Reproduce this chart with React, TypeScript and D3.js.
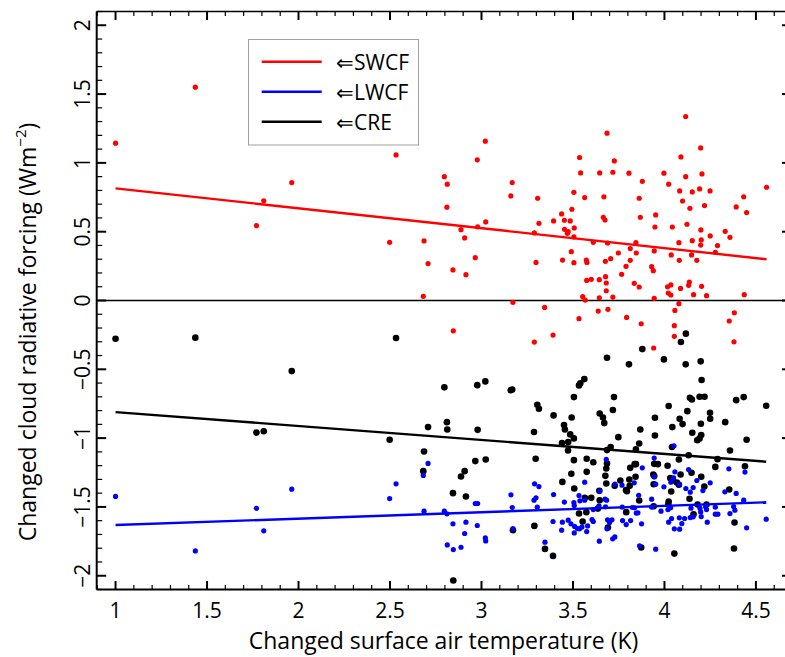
import React from 'react';
import * as d3 from 'd3';

// [temperature change (K), forcing change (W m-2)]
const swcfPoints: [number, number][] = [
  [1.0, 1.143], [1.436, 1.55], [1.77, 0.544], [1.81, 0.724], [1.963, 0.857],
  [2.533, 1.058], [2.498, 0.423], [2.682, 0.03], [2.686, 0.433], [2.708, 0.268], [2.797, 0.9],
  [2.813, 0.845], [2.811, 0.678], [2.844, 0.222], [2.846, -0.22], [2.888, 0.515], [2.908, 0.455],
  [2.915, 0.188], [2.966, 0.311], [2.977, 1.022], [3.021, 1.158], [2.979, 0.535], [3.023, 0.571],
  [3.168, 0.857], [3.16, 0.76], [3.172, -0.013],
  [4.116, 1.337], [3.686, 1.216], [4.198, 1.109], [4.09, 1.043], [3.536, 1.039], [3.726, 1.014],
  [3.542, 0.927], [3.646, 0.927], [3.718, 0.932], [3.806, 0.925], [3.997, 0.925], [4.205, 0.92],
  [4.116, 0.9], [3.879, 0.866], [4.023, 0.845], [4.192, 0.811], [4.249, 0.796], [4.083, 0.796],
  [4.152, 0.789], [3.505, 0.786], [3.307, 0.743], [3.564, 0.748], [3.669, 0.753], [3.862, 0.743],
  [4.099, 0.723], [4.219, 0.69], [4.392, 0.68], [4.433, 0.753], [4.449, 0.639], [4.558, 0.823],
  [4.139, 0.67], [3.494, 0.663], [3.438, 0.629], [3.952, 0.622], [3.666, 0.605], [3.675, 0.585],
  [3.868, 0.605], [3.394, 0.578], [3.453, 0.583], [3.485, 0.578], [3.314, 0.561], [4.123, 0.554],
  [3.948, 0.534], [4.043, 0.534], [3.507, 0.527], [3.454, 0.517], [3.474, 0.5], [3.469, 0.488],
  [3.289, 0.491], [4.199, 0.513], [4.332, 0.503], [4.358, 0.459], [4.25, 0.469], [4.201, 0.44],
  [4.198, 0.403], [4.29, 0.399], [4.152, 0.435], [3.505, 0.462], [3.611, 0.423], [3.689, 0.418],
  [3.844, 0.42], [3.813, 0.377], [4.079, 0.42], [3.944, 0.36], [3.748, 0.345], [3.846, 0.345],
  [3.491, 0.355], [4.278, 0.35], [4.148, 0.331], [4.037, 0.331], [4.177, 0.292], [4.081, 0.292],
  [3.443, 0.294], [3.298, 0.277], [3.505, 0.275], [3.573, 0.294], [3.576, 0.277], [3.677, 0.285],
  [3.706, 0.304], [3.813, 0.292], [3.79, 0.248], [3.93, 0.246], [3.939, 0.217], [3.766, 0.19],
  [3.678, 0.173], [3.575, 0.146], [3.6, 0.154], [3.644, 0.151], [3.682, 0.127], [3.835, 0.125],
  [3.862, 0.098], [4.017, 0.1], [4.035, 0.113], [4.021, 0.054], [4.035, 0.04], [4.136, 0.134],
  [4.132, 0.11], [4.088, 0.088], [4.203, 0.103], [4.159, 0.042], [4.23, 0.035], [4.436, 0.042],
  [3.682, 0.071], [3.553, 0.028], [3.567, 0.003], [3.644, 0.02], [3.718, 0.025], [3.944, 0.016],
  [4.079, -0.023], [3.345, -0.05], [3.533, -0.132], [3.638, -0.077], [3.691, -0.064], [3.793, -0.123],
  [3.873, -0.169], [4.054, -0.183], [4.057, -0.072], [4.382, -0.089], [4.354, -0.149],
  [3.289, -0.302], [3.391, -0.251], [4.054, -0.26], [3.941, -0.345], [4.38, -0.3],
];

const lwcfPoints: [number, number][] = [
  [1.0, -1.424], [1.436, -1.82], [1.77, -1.51], [1.81, -1.674], [1.963, -1.371],
  [2.498, -1.439], [2.533, -1.332], [2.708, -1.184], [2.682, -1.271], [2.686, -1.531], [2.797, -1.531],
  [2.811, -1.55], [2.844, -1.623], [2.813, -1.776], [2.846, -1.81], [2.888, -1.793], [2.908, -1.693],
  [2.915, -1.611], [2.966, -1.475], [2.979, -1.475], [2.977, -1.635], [3.021, -1.725], [3.023, -1.747],
  [3.161, -1.412], [3.168, -1.504], [3.172, -1.657],
  [4.052, -1.056], [3.682, -1.155], [3.944, -1.145], [3.879, -1.216], [4.132, -1.228], [4.057, -1.245],
  [4.352, -1.223], [4.44, -1.247], [3.29, -1.332], [3.314, -1.352], [4.035, -1.32], [3.564, -1.32],
  [3.944, -1.281], [3.997, -1.354], [4.05, -1.289], [4.081, -1.335], [4.117, -1.366], [4.141, -1.393],
  [4.157, -1.359], [4.177, -1.308], [4.25, -1.325], [4.21, -1.381], [3.952, -1.335], [3.768, -1.342],
  [3.729, -1.335], [3.835, -1.325], [3.287, -1.451], [3.298, -1.434], [3.394, -1.41], [3.533, -1.417],
  [3.646, -1.385], [3.564, -1.451], [3.675, -1.444], [3.684, -1.451], [3.859, -1.415], [3.93, -1.444],
  [4.33, -1.39], [4.392, -1.402], [4.433, -1.451], [3.305, -1.502], [3.453, -1.465], [3.505, -1.468],
  [3.507, -1.49], [3.538, -1.456], [3.611, -1.519], [3.642, -1.492], [3.678, -1.499], [3.769, -1.502],
  [3.824, -1.504], [3.837, -1.507], [3.93, -1.502], [4.019, -1.519], [4.034, -1.507], [4.145, -1.509],
  [4.194, -1.509], [4.198, -1.536], [4.225, -1.499], [4.23, -1.519], [4.278, -1.502], [4.378, -1.497],
  [4.385, -1.524], [4.556, -1.589], [3.391, -1.606], [3.442, -1.611], [3.474, -1.596], [3.489, -1.623],
  [3.509, -1.642], [3.524, -1.657], [3.549, -1.645], [3.58, -1.638], [3.604, -1.592], [3.611, -1.606],
  [3.689, -1.594], [3.7, -1.613], [3.713, -1.594], [3.771, -1.599], [3.791, -1.628], [3.815, -1.599],
  [3.846, -1.545], [3.855, -1.543], [3.875, -1.623], [3.981, -1.531], [4.023, -1.611], [4.039, -1.584],
  [4.081, -1.579], [4.095, -1.621], [4.11, -1.584], [4.141, -1.577], [4.157, -1.572], [4.201, -1.57],
  [4.234, -1.611], [4.278, -1.553], [4.292, -1.553], [4.358, -1.548], [4.449, -1.652], [3.438, -1.669],
  [3.507, -1.689], [3.536, -1.659], [3.575, -1.679], [3.686, -1.659], [3.864, -1.783], [3.729, -1.718],
  [3.717, -1.732], [3.644, -1.749], [3.347, -1.756], [3.952, -1.807], [4.054, -1.659], [4.083, -1.662],
];

const crePoints: [number, number][] = [
  [1.0, -0.278], [1.436, -0.27], [1.77, -0.96], [1.81, -0.95], [1.963, -0.513],
  [2.533, -0.273], [2.797, -0.631], [2.977, -0.615], [3.021, -0.588], [3.16, -0.652], [3.168, -0.647],
  [2.498, -1.012], [2.708, -0.92], [2.811, -0.884], [2.813, -0.937], [2.979, -0.94], [2.686, -1.097],
  [2.682, -1.24], [2.966, -1.167], [3.023, -1.155], [2.908, -1.24], [2.888, -1.279], [2.844, -1.4],
  [2.915, -1.424], [3.172, -1.669], [2.846, -2.035],
  [4.117, -0.241], [4.09, -0.302], [3.879, -0.353], [3.686, -0.416], [3.806, -0.464], [3.997, -0.428],
  [4.116, -0.464], [4.198, -0.442], [4.203, -0.578], [3.562, -0.571], [3.54, -0.602], [3.533, -0.617],
  [3.505, -0.702], [3.724, -0.702], [4.139, -0.707], [4.15, -0.719], [4.192, -0.699], [4.219, -0.699],
  [4.392, -0.724], [4.433, -0.702], [3.305, -0.758], [3.314, -0.787], [4.023, -0.767], [3.646, -0.821],
  [3.664, -0.85], [3.671, -0.891], [3.718, -0.796], [4.125, -0.804], [4.249, -0.816], [4.25, -0.859],
  [3.394, -0.835], [3.493, -0.85], [3.948, -0.852], [4.083, -0.859], [4.099, -0.898], [4.199, -0.896],
  [4.332, -0.884], [3.451, -0.905], [3.456, -0.937], [4.043, -0.92], [3.868, -0.937], [3.287, -0.956],
  [3.485, -0.973], [3.505, -1.002], [3.748, -0.993], [3.948, -0.981], [4.152, -0.961], [4.192, -1.002],
  [4.201, -0.978], [4.179, -1.015], [4.449, -1.012], [3.44, -1.036], [3.474, -1.029], [3.862, -1.039],
  [3.844, -1.082], [3.686, -1.087], [3.706, -1.065], [4.041, -1.065], [4.358, -1.09], [3.473, -1.09],
  [3.296, -1.15], [3.505, -1.16], [3.575, -1.15], [3.611, -1.175], [3.686, -1.184], [3.682, -1.221],
  [3.813, -1.216], [3.837, -1.189], [3.844, -1.189], [3.944, -1.187], [3.964, -1.189], [4.079, -1.155],
  [4.017, -1.201], [4.29, -1.153], [4.44, -1.204], [4.278, -1.209], [4.132, -1.124], [3.491, -1.259],
  [3.575, -1.245], [3.677, -1.274], [3.939, -1.264], [3.944, -1.276], [3.842, -1.281], [3.808, -1.301],
  [4.032, -1.291], [4.045, -1.308], [4.068, -1.322], [4.088, -1.264], [4.148, -1.252], [4.201, -1.281],
  [3.442, -1.318], [3.682, -1.33], [3.728, -1.347], [3.759, -1.308], [3.507, -1.366], [3.81, -1.347],
  [3.79, -1.378], [3.795, -1.386], [3.941, -1.335], [4.037, -1.388], [4.079, -1.339], [4.218, -1.352],
  [4.354, -1.373], [3.565, -1.434], [3.6, -1.434], [3.644, -1.383], [3.646, -1.451], [3.862, -1.453],
  [4.023, -1.461], [4.137, -1.441], [4.181, -1.482], [4.23, -1.482], [3.941, -1.495], [4.021, -1.48],
  [3.533, -1.548], [3.573, -1.538], [3.553, -1.606], [3.636, -1.512], [3.791, -1.538], [4.159, -1.553],
  [4.383, -1.613], [3.289, -1.638], [3.691, -1.65], [3.347, -1.805], [3.391, -1.856], [3.873, -1.795],
  [4.054, -1.839], [4.38, -1.802], [4.556, -0.765],
];

const xTicks = [1, 1.5, 2, 2.5, 3, 3.5, 4, 4.5];
const yTicks = [-2, -1.5, -1, -0.5, 0, 0.5, 1, 1.5, 2];
const legendLabels = ['\u21D0SWCF', '\u21D0LWCF', '\u21D0CRE'];
const seriesColors = ['#ff0000', '#0000ff', '#000000'];
const xTitle = 'Changed surface air temperature (K)';

const W = 785;
const H = 657;
const L = 96.7, R = 786.5, T = 11.5, B = 589.5;
const FONT = '"Open Sans", "Liberation Sans", sans-serif';

function fit(points: [number, number][]) {
  const mx = d3.mean(points, (d) => d[0])!;
  const my = d3.mean(points, (d) => d[1])!;
  const sxy = d3.sum(points, (d) => (d[0] - mx) * (d[1] - my));
  const sxx = d3.sum(points, (d) => (d[0] - mx) ** 2);
  const slope = sxy / sxx;
  const icpt = my - slope * mx;
  const ext = d3.extent(points, (d) => d[0]) as [number, number];
  return ext.map((x) => [x, icpt + slope * x] as [number, number]);
}

export default function App() {
  const x = d3.scaleLinear().domain([0.897, 4.667]).range([L, R]);
  const y = d3.scaleLinear().domain([-2.1, 2.1]).range([B, T]);
  const line = d3.line<[number, number]>().x((d) => x(d[0])).y((d) => y(d[1]));

  const xMinor = d3.range(9, 47).map((v) => v / 10);
  const yMinor = d3.range(-21, 22).map((v) => v / 10);

  const fmt = (v: number) => (v < 0 ? '\u2212' + String(-v) : String(v));

  const series = [swcfPoints, lwcfPoints, crePoints];
  const fits = series.map(fit);

  return (
    <svg width={W} height={H} style={{ position: 'absolute', left: 0, top: 0, background: '#fff' }}
      fontFamily={FONT}>
      <rect x={0} y={0} width={W} height={H} fill="#fff" />
      {/* zero line */}
      <line x1={L} x2={R} y1={y(0)} y2={y(0)} stroke="#000" strokeWidth={1.6} />

      {/* points */}
      {swcfPoints.map((d, i) => (
        <circle key={'s' + i} cx={x(d[0])} cy={y(d[1])} r={2.6} fill={seriesColors[0]} />
      ))}
      {crePoints.map((d, i) => (
        <circle key={'c' + i} cx={x(d[0])} cy={y(d[1])} r={3.3} fill={seriesColors[2]} />
      ))}
      {lwcfPoints.map((d, i) => (
        <circle key={'l' + i} cx={x(d[0])} cy={y(d[1])} r={2.6} fill={seriesColors[1]} />
      ))}

      {/* regression lines */}
      {fits.map((f, i) => (
        <path key={'f' + i} d={line(f) || ''} stroke={seriesColors[i]} strokeWidth={2.4} fill="none" />
      ))}

      {/* frame */}
      <line x1={L} x2={R} y1={T} y2={T} stroke="#000" strokeWidth={1.5} />
      <line x1={L} x2={R} y1={B} y2={B} stroke="#000" strokeWidth={2} />
      <line x1={L} x2={L} y1={T} y2={B} stroke="#000" strokeWidth={2} />
      <line x1={R} x2={R} y1={T} y2={B} stroke="#000" strokeWidth={1.5} />

      {/* x ticks */}
      {xMinor.map((v) => {
        const major = Math.abs(v * 2 - Math.round(v * 2)) < 1e-6;
        const len = major ? 8.5 : 4.5;
        return (
          <g key={'xt' + v}>
            <line x1={x(v)} x2={x(v)} y1={B} y2={B - len} stroke="#000" strokeWidth={major ? 2 : 1.2} />
            <line x1={x(v)} x2={x(v)} y1={T} y2={T + len} stroke="#000" strokeWidth={major ? 2 : 1.2} />
          </g>
        );
      })}
      {/* y ticks */}
      {yMinor.map((v) => {
        const major = Math.abs(v * 2 - Math.round(v * 2)) < 1e-6;
        const len = major ? 9.5 : 5.5;
        return (
          <g key={'yt' + v}>
            <line x1={L} x2={L + len} y1={y(v)} y2={y(v)} stroke="#000" strokeWidth={major ? 2 : 1.2} />
            {major && <line x1={R} x2={R - 4.5} y1={y(v)} y2={y(v)} stroke="#000" strokeWidth={2} />}
          </g>
        );
      })}

      {/* tick labels */}
      {xTicks.map((v) => (
        <text key={'xl' + v} x={x(v)} y={617.5} fontSize={21} textAnchor="middle" fill="#000">{fmt(v)}</text>
      ))}
      {yTicks.map((v) => (
        <text key={'yl' + v} transform={`translate(90,${y(v)}) rotate(-90)`} fontSize={21}
          textAnchor="middle" fill="#000">{fmt(v)}</text>
      ))}

      {/* axis titles */}
      <text x={(L + R) / 2 + 2} y={649} fontSize={23} textAnchor="middle" fill="#000">{xTitle}</text>
      <text transform="translate(36,332) rotate(-90)" fontSize={23} textAnchor="middle" fill="#000">
        Changed cloud radiative forcing (Wm
        <tspan fontSize={15} dy={-10}>{'\u22122'}</tspan>
        <tspan dy={10}>)</tspan>
      </text>

      {/* legend */}
      <rect x={248.5} y={39.5} width={170} height={105.5} fill="#fff" stroke="#a0a0a0" strokeWidth={1} />
      {legendLabels.map((lab, i) => (
        <g key={'lg' + i}>
          <line x1={261.7} x2={321.7} y1={61.7 + 30 * i} y2={61.7 + 30 * i} stroke={seriesColors[i]} strokeWidth={2.4} />
          <text x={336} y={69.5 + 30 * i} fontSize={21} fill="#000">{lab}</text>
        </g>
      ))}
    </svg>
  );
}
